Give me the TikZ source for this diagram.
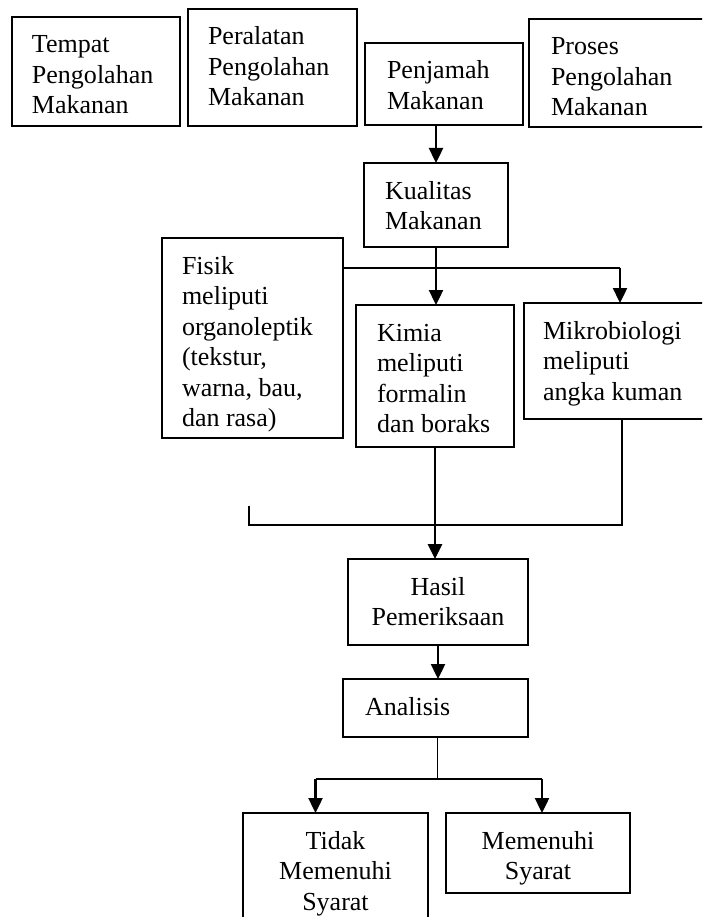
\documentclass[tikz,border=0pt]{standalone}
\usepackage{fontspec}
\setmainfont{Liberation Serif}
\usetikzlibrary{arrows.meta,calc}
\newcommand{\boxl}[4]{\parbox[c][#2pt][t]{#1pt}{\raggedright\leftskip=#3pt\relax\vspace*{16pt}\rule{0pt}{20pt}#4}}
\newcommand{\boxc}[3]{\parbox[c][#2pt][t]{#1pt}{\centering\vspace*{16pt}\rule{0pt}{20pt}#3}}
\tikzset{
  bx/.style={draw, line width=1.5pt, inner sep=0pt, outer sep=0pt, anchor=north west,
    font=\fontsize{26}{30.5}\selectfont},
  arr/.style={line width=2.4pt, -{Triangle[width=14pt,length=15pt]}},
  thickarr/.style={line width=2.9pt, -{Triangle[width=14pt,length=15pt]}},
  medl/.style={line width=2pt},
  thinl/.style={line width=1.1pt}
}
\begin{document}
\begin{tikzpicture}[x=1pt,y=-1pt]
\clip (0,0) rectangle (702,917);
\fill[white] (0,0) rectangle (702,917);
% top row
\node[bx] (tempat) at (12,17) {\boxl{168}{109}{20}{Tempat\\Pengolahan\\Makanan}};
\node[bx] (peralatan) at (188,9) {\boxl{169}{117}{20}{Peralatan\\Pengolahan\\Makanan}};
\node[bx] (penjamah) at (365,43) {\boxl{158}{82}{22}{Penjamah\\Makanan}};
\node[bx] (proses) at (529,19) {\boxl{187}{108}{22}{Proses\\Pengolahan\\Makanan}};
% middle
\node[bx] (kualitas) at (364,163) {\boxl{144}{84}{21}{Kualitas\\Makanan}};
\node[bx] (fisik) at (162,238) {\boxl{181}{200}{20}{Fisik\\meliputi\\organoleptik\\(tekstur,\\warna, bau,\\dan rasa)}};
\node[bx] (kimia) at (356,305) {\boxl{158}{142}{21}{Kimia\\meliputi\\formalin\\dan boraks}};
\node[bx] (mikro) at (524,303) {\boxl{192}{116}{19}{Mikrobiologi\\meliputi\\angka kuman}};
% lower
\node[bx] (hasil) at (348,559) {\boxc{180}{86}{Hasil\\Pemeriksaan}};
\node[bx] (analisis) at (343,679) {\boxl{185}{58}{22}{Analisis}};
\node[bx] (tidak) at (243,813) {\boxc{185}{117}{Tidak\\Memenuhi\\Syarat}};
\node[bx] (memenuhi) at (446,813) {\boxc{184}{80}{Memenuhi\\Syarat}};
% connectors
\draw[arr] (penjamah.south -| kualitas.north) -- (kualitas.north);
\draw[arr] (kualitas.south) -- (kualitas.south |- kimia.north);
\draw[medl] ([yshift=70pt]fisik.east) -- ([yshift=70pt]fisik.east -| mikro.north);
\draw[arr] ([yshift=70pt]fisik.east -| mikro.north) -- (mikro.north);
\coordinate (bl) at (249,525);
\coordinate (bt) at (249,506);
\draw[thinl] ([xshift=2pt]mikro.south) |- (bl) -- (bt);
\draw[thickarr] (kimia.south) -- (kimia.south |- hasil.north);
\draw[arr] (hasil.south) -- (hasil.south |- analisis.north);
\coordinate (sp) at ($(analisis.south)+(2,42)$);
\draw[thinl] ([xshift=2pt]analisis.south) -- (sp);
\draw[thinl] ([xshift=-20pt]tidak.north |- sp) -- ([xshift=4pt]memenuhi.north |- sp);
\draw[arr] ([xshift=-20pt]tidak.north |- sp) -- ([xshift=-20pt]tidak.north);
\draw[arr] ([xshift=4pt]memenuhi.north |- sp) -- ([xshift=4pt]memenuhi.north);
\end{tikzpicture}
\end{document}
